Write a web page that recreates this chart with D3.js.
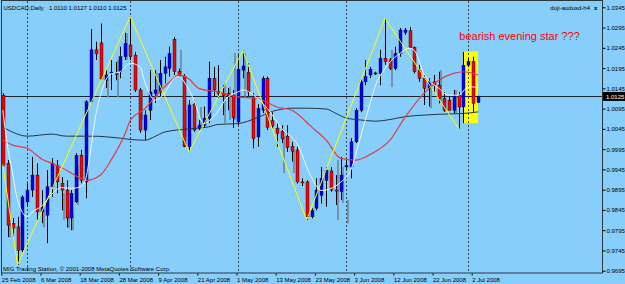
<!DOCTYPE html>
<html>
<head>
<meta charset="utf-8">
<script src="https://cdn.jsdelivr.net/npm/d3@7"></script>
<style>
  html, body { margin: 0; padding: 0; background: #87cefa; }
  svg { display: block; }
  text { font-family: "Liberation Sans", Arial, sans-serif; }
</style>
</head>
<body>
<svg id="chart"></svg>
<script>
var width = 625;
var height = 284;

// daily bars, bar 0 = 25 Feb 2008
var opens  = [1.0128,0.9960,0.9812,0.9803,0.9746,0.9865,0.9894,0.9931,0.9840,0.9832,0.9902,0.9955,0.9911,0.9894,0.9825,0.9865,0.9980,0.9914,1.0112,1.0240,
              1.0257,1.0165,1.0183,1.0180,1.0186,1.0223,1.0252,1.0227,1.0141,1.0042,1.0091,1.0133,1.0136,1.0182,1.0194,1.0266,1.0186,1.0174,1.0001,1.0106,
              1.0046,1.0054,1.0071,1.0170,1.0138,1.0133,1.0126,1.0128,1.0062,1.0190,1.0185,1.0120,1.0025,1.0091,1.0170,1.0065,1.0046,1.0038,1.0027,1.0002,
              0.9993,0.9914,0.9914,0.9828,0.9849,0.9881,0.9918,0.9941,0.9894,0.9890,0.9951,0.9951,1.0013,1.0091,1.0161,1.0178,1.0182,1.0182,1.0219,1.0215,
              1.0194,1.0231,1.0283,1.0287,1.0246,1.0190,1.0170,1.0145,1.0161,1.0153,1.0120,1.0116,1.0091,1.0128,1.0099,1.0202,1.0211,1.0110];
var highs  = [1.0133,0.9968,0.9825,0.9828,0.9881,0.9911,0.9976,0.9960,0.9894,0.9943,0.9973,0.9968,0.9926,0.9918,0.9894,0.9985,0.9993,1.0116,1.0291,1.0260,
              1.0305,1.0190,1.0215,1.0210,1.0248,1.0282,1.0322,1.0235,1.0146,1.0091,1.0190,1.0190,1.0215,1.0223,1.0248,1.0272,1.0194,1.0180,1.0116,1.0116,
              1.0067,1.0100,1.0211,1.0198,1.0202,1.0153,1.0146,1.0141,1.0227,1.0238,1.0207,1.0133,1.0106,1.0175,1.0174,1.0086,1.0059,1.0054,1.0054,1.0013,
              1.0001,0.9923,0.9918,0.9849,0.9923,0.9951,0.9951,0.9951,0.9931,0.9976,0.9968,1.0022,1.0096,1.0170,1.0215,1.0198,1.0186,1.0240,1.0318,1.0220,
              1.0248,1.0294,1.0294,1.0296,1.0248,1.0203,1.0178,1.0170,1.0178,1.0186,1.0136,1.0128,1.0141,1.0136,1.0235,1.0220,1.0223,1.0127];
var lows   = [0.9951,0.9778,0.9778,0.9709,0.9741,0.9853,0.9877,0.9820,0.9812,0.9763,0.9877,0.9886,0.9844,0.9802,0.9795,0.9862,0.9911,0.9874,1.0109,1.0215,
              1.0165,1.0146,1.0141,1.0165,1.0170,1.0215,1.0215,1.0136,1.0035,1.0017,1.0067,1.0109,1.0124,1.0157,1.0174,1.0178,1.0173,1.0000,0.9988,1.0038,
              1.0042,1.0050,1.0059,1.0124,1.0121,1.0079,1.0091,1.0047,1.0054,1.0170,1.0126,0.9997,1.0001,1.0084,1.0042,1.0046,1.0001,1.0010,0.9988,0.9964,
              0.9910,0.9904,0.9820,0.9824,0.9844,0.9861,0.9853,0.9890,0.9857,0.9869,0.9943,0.9923,1.0010,1.0086,1.0153,1.0170,1.0178,1.0153,1.0203,1.0190,
              1.0190,1.0223,1.0277,1.0244,1.0182,1.0161,1.0104,1.0100,1.0133,1.0108,1.0087,1.0091,1.0083,1.0046,1.0059,1.0197,1.0087,1.0110];
var closes = [0.9955,0.9807,0.9800,0.9745,0.9877,0.9894,0.9931,0.9840,0.9852,0.9902,0.9960,0.9914,0.9894,0.9825,0.9886,0.9980,0.9918,1.0112,1.0240,1.0230,
              1.0168,1.0178,1.0185,1.0183,1.0223,1.0256,1.0223,1.0141,1.0042,1.0079,1.0136,1.0141,1.0182,1.0198,1.0231,1.0186,1.0175,1.0001,1.0104,1.0042,
              1.0054,1.0071,1.0170,1.0141,1.0132,1.0128,1.0133,1.0072,1.0192,1.0200,1.0136,1.0021,1.0095,1.0170,1.0049,1.0052,1.0034,1.0021,0.9999,0.9990,
              0.9914,0.9912,0.9828,0.9844,0.9894,0.9923,0.9943,0.9894,0.9893,0.9931,0.9955,1.0013,1.0091,1.0161,1.0174,1.0192,1.0183,1.0219,1.0211,1.0194,
              1.0231,1.0289,1.0289,1.0246,1.0186,1.0170,1.0145,1.0161,1.0153,1.0120,1.0091,1.0091,1.0128,1.0099,1.0202,1.0211,1.0108,1.0125];

// second (grey) bars seen behind the candles: [bar, top, bottom]
var ghostBars = [[1,0.9820,0.9778],[8,0.9844,0.9802],[12,0.9886,0.9820],[13,0.9844,0.9800],[14,0.9837,0.9795],[15,0.9955,0.9857],
                 [21,1.0165,1.0123],[23,1.0215,1.0123],[25,1.0281,1.0215],[28,1.0141,1.0067],[31,1.0183,1.0123],[36,1.0240,1.0183],
                 [37,1.0091,1.0025],[40,1.0099,1.0042],[45,1.0158,1.0059],[46,1.0148,1.0067],[47,1.0232,1.0067],[49,1.0232,1.0123],
                 [57,1.0025,0.9936],[59,0.9992,0.9936],[68,0.9968,0.9820],[69,0.9951,0.9862],[70,0.9869,0.9812],[79,1.0240,1.0148],
                 [87,1.0146,1.0096],[89,1.0190,1.0109],[92,1.0141,1.0084]];

// moving averages [bar, price]
var maSlow = [[0,1.0050],[3,1.0032],[5,1.0027],[10,1.0032],[13,1.0027],[18,1.0027],[24,1.0022],[26,1.0019],[29,1.0017],[31,1.0026],
              [33,1.0037],[38,1.0045],[42,1.0050],[44,1.0056],[48,1.0058],[52,1.0073],[55,1.0088],[59,1.0096],[62,1.0096],[66,1.0094],
              [68,1.0083],[70,1.0072],[73,1.0067],[76,1.0064],[79,1.0068],[82,1.0075],[86,1.0079],[89,1.0081],[94,1.0083],[97,1.0087]];
var maMid  = [[0,1.0017],[2,1.0005],[5,0.9997],[8,0.9970],[10,0.9960],[13,0.9943],[16,0.9922],[17,0.9918],[20,0.9932],[22,0.9966],
              [25,1.0034],[26,1.0065],[29,1.0095],[32,1.0136],[34,1.0160],[36,1.0178],[38,1.0168],[40,1.0145],[44,1.0136],[48,1.0124],
              [52,1.0120],[56,1.0099],[59,1.0091],[63,1.0050],[66,1.0017],[69,0.9972],[72,0.9968],[75,0.9982],[79,1.0017],[82,1.0072],
              [86,1.0133],[89,1.0165],[92,1.0182],[94,1.0186],[97,1.0178]];
var maFast = [[0,1.0091],[1,1.0000],[2,0.9935],[3,0.9870],[5,0.9828],[6,0.9840],[8,0.9855],[10,0.9884],[12,0.9900],[14,0.9898],
              [16,0.9903],[17,0.9925],[18,1.0000],[19,1.0080],[20,1.0130],[21,1.0165],[22,1.0180],[24,1.0186],[26,1.0207],[28,1.0198],
              [29,1.0160],[31,1.0116],[33,1.0133],[35,1.0170],[36,1.0174],[37,1.0161],[39,1.0116],[41,1.0058],[43,1.0075],[46,1.0124],
              [48,1.0136],[49,1.0141],[52,1.0120],[54,1.0095],[57,1.0045],[60,1.0009],[63,0.9925],[65,0.9893],[67,0.9898],[69,0.9914],
              [71,0.9943],[73,1.0025],[75,1.0110],[76,1.0150],[78,1.0194],[81,1.0231],[83,1.0244],[84,1.0238],[86,1.0180],[89,1.0145],
              [91,1.0128],[93,1.0128],[95,1.0149],[97,1.0147]];
var zigzag = [[0,0.9957],[3,0.9709],[26,1.0322],[38,0.9988],[49,1.0238],[62,0.9820],[78,1.0318],[93,1.0046]];

var separators = [5, 26, 48, 70, 95];
var yTicks = [0.9695,0.9745,0.9795,0.9845,0.9895,0.9945,0.9995,1.0045,1.0095,1.0145,1.0195,1.0245,1.0295,1.0345];
var xLabels = ["25 Feb 2008","6 Mar 2008","18 Mar 2008","28 Mar 2008","9 Apr 2008","21 Apr 2008","1 May 2008",
               "13 May 2008","23 May 2008","3 Jun 2008","12 Jun 2008","22 Jun 2008","2 Jul 2008"];
var xLabelBars = [0,8,16,24,32,40,48,56,64,72,80,88,96];

// evening star box: bars and price range
var boxBars = [94, 97];
var boxPrices = [1.0236, 1.0059];

var symbol = "USDCAD,Daily";
var indicatorName = "doji-audusd-h4";
var note = "bearish evening star ???";
var copyright = "MIG Trading Station, \u00a9 2001-2008 MetaQuotes Software Corp.";

var plot = { left: 1, top: 1, right: 602, bottom: 273 };

var svg = d3.select('#chart')
  .attr('width', width)
  .attr('height', height);

svg.append('rect').attr('width', width).attr('height', height).attr('fill', '#87cefa');

svg.append('clipPath').attr('id', 'plotclip')
  .append('rect')
    .attr('x', plot.left).attr('y', plot.top)
    .attr('width', plot.right - plot.left).attr('height', plot.bottom - plot.top);

var x = d3.scaleLinear().domain([0, 97]).range([2.8, 478.1]);
var y = d3.scaleLinear().domain([0.9695, 1.0345]).range([270.7, 7.3]);

var g = svg.append('g').attr('clip-path', 'url(#plotclip)');

// highlight box
g.append('rect')
  .attr('x', x(boxBars[0]))
  .attr('y', y(boxPrices[0]))
  .attr('width', x(boxBars[1]) - x(boxBars[0]))
  .attr('height', y(boxPrices[1]) - y(boxPrices[0]))
  .attr('fill', '#ffff00');

// period separators
g.selectAll('line.sep')
  .data(separators)
  .join('line')
    .attr('class', 'sep')
    .attr('x1', d => Math.round(x(d)) + 0.5)
    .attr('x2', d => Math.round(x(d)) + 0.5)
    .attr('y1', plot.top)
    .attr('y2', plot.bottom)
    .attr('stroke', '#3c4c58')
    .attr('stroke-dasharray', '2,2');

// bid line
g.append('line')
  .attr('x1', plot.left).attr('x2', plot.right)
  .attr('y1', Math.round(y(closes[closes.length - 1])) + 0.5)
  .attr('y2', Math.round(y(closes[closes.length - 1])) + 0.5)
  .attr('stroke', '#1c2630');

// grey bars
g.selectAll('rect.ghost')
  .data(ghostBars)
  .join('rect')
    .attr('class', 'ghost')
    .attr('x', d => Math.round(x(d[0])) + 1)
    .attr('y', d => y(d[1]))
    .attr('width', 2)
    .attr('height', d => y(d[2]) - y(d[1]))
    .attr('fill', '#6a8295')
    .attr('opacity', 0.75);

var bars = d3.range(closes.length);

// wicks
g.selectAll('line.wick')
  .data(bars)
  .join('line')
    .attr('class', 'wick')
    .attr('x1', i => Math.round(x(i)) + 0.5)
    .attr('x2', i => Math.round(x(i)) + 0.5)
    .attr('y1', i => y(highs[i]))
    .attr('y2', i => y(lows[i]))
    .attr('stroke', '#000');

// bodies
g.selectAll('rect.body')
  .data(bars)
  .join('rect')
    .attr('class', 'body')
    .attr('x', i => Math.round(x(i)) - 1)
    .attr('y', i => y(Math.max(opens[i], closes[i])))
    .attr('width', 3)
    .attr('height', i => Math.max(1, Math.abs(y(opens[i]) - y(closes[i]))))
    .attr('fill', i => closes[i] > opens[i] ? '#0000ff' : (closes[i] < opens[i] ? '#ff0000' : '#000'))
    .attr('stroke', '#000')
    .attr('stroke-width', 0.4);

var maLine = d3.line()
  .x(d => x(d[0]))
  .y(d => y(d[1]))
  .curve(d3.curveMonotoneX);

g.append('path').datum(maSlow).attr('d', maLine)
  .attr('fill', 'none').attr('stroke', '#26343c').attr('stroke-width', 1);
g.append('path').datum(maMid).attr('d', maLine)
  .attr('fill', 'none').attr('stroke', '#e23a48').attr('stroke-width', 1.2);
g.append('path').datum(maFast).attr('d', maLine)
  .attr('fill', 'none').attr('stroke', '#f4f8ff').attr('stroke-width', 1);

g.append('path').datum(zigzag)
  .attr('d', d3.line().x(d => x(d[0])).y(d => y(d[1])))
  .attr('fill', 'none').attr('stroke', '#ffff00').attr('stroke-width', 1);

// frame
svg.append('rect')
  .attr('x', plot.left + 0.5).attr('y', plot.top - 0.5)
  .attr('width', plot.right - plot.left).attr('height', plot.bottom - plot.top + 0.5)
  .attr('fill', 'none').attr('stroke', '#2a3640');

// price axis
var yAxis = svg.append('g')
  .attr('transform', 'translate(' + (plot.right + 0.5) + ',0)')
  .call(d3.axisRight(y).tickValues(yTicks).tickSize(3).tickPadding(1).tickFormat(d3.format('.4f')));
yAxis.select('.domain').remove();
yAxis.selectAll('line').attr('stroke', '#000');
yAxis.selectAll('text').attr('font-size', 6).attr('fill', '#000').attr('font-family', '"Liberation Sans", Arial, sans-serif');

// current price box
var last = closes[closes.length - 1];
svg.append('rect')
  .attr('x', plot.right + 1).attr('y', y(last) - 4.5)
  .attr('width', 22).attr('height', 9)
  .attr('fill', '#000');
svg.append('text')
  .attr('x', plot.right + 4).attr('y', y(last) + 2.2)
  .attr('font-size', 6).attr('fill', '#fff')
  .text(d3.format('.4f')(last));

// time axis
var xAxis = svg.append('g')
  .attr('transform', 'translate(0,' + (plot.bottom + 0.5) + ')')
  .call(d3.axisBottom(x).tickValues(xLabelBars).tickSize(2).tickPadding(2).tickFormat((d, i) => xLabels[i]));
xAxis.select('.domain').remove();
xAxis.selectAll('line').attr('stroke', '#000').attr('transform', 'translate(-1.5,0)');
xAxis.selectAll('text')
  .attr('font-size', 6).attr('fill', '#000')
  .attr('font-family', '"Liberation Sans", Arial, sans-serif')
  .attr('text-anchor', 'start')
  .attr('x', -1.5);

// header
svg.append('text').attr('x', 3.5).attr('y', 9.5).attr('font-size', 6).text(symbol);
var last4 = [opens, highs, lows, closes].map(a => d3.format('.4f')(a[a.length - 1])).join(' ');
svg.append('text').attr('x', 49).attr('y', 9.5).attr('font-size', 6).text(last4);

svg.append('text').attr('x', 590).attr('y', 9.5).attr('font-size', 6)
  .attr('text-anchor', 'end').text(indicatorName);
svg.append('text').attr('x', 594).attr('y', 9.5).attr('font-size', 6)
  .attr('font-weight', 'bold').text('x');

// annotation
svg.append('text')
  .attr('x', 459.3).attr('y', 40)
  .attr('font-size', 11)
  .attr('fill', '#ff0000')
  .text(note);

svg.append('text').attr('x', 3).attr('y', 271).attr('font-size', 6).text(copyright);
</script>
</body>
</html>
